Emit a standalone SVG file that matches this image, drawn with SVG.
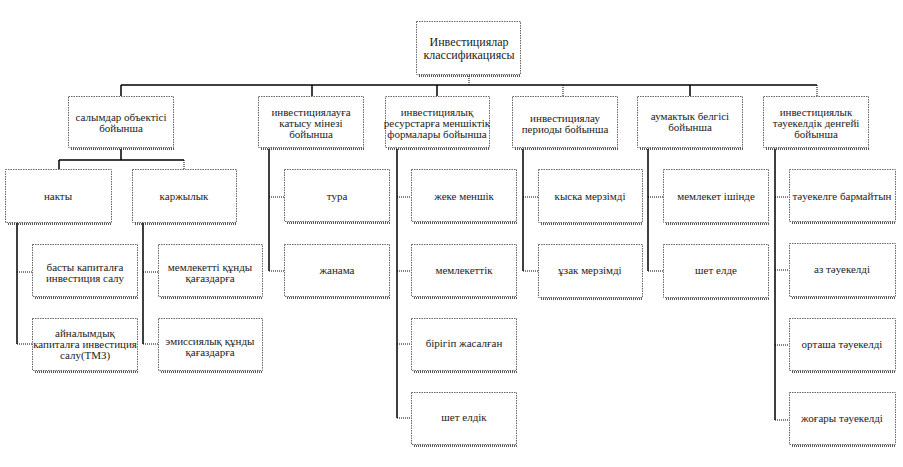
<svg xmlns="http://www.w3.org/2000/svg" width="903" height="467" viewBox="0 0 903 467">
<style>
.box{fill:#fff;stroke:#666;stroke-width:1;stroke-dasharray:1.5 1}
.sh{stroke:#222;stroke-width:1.5;stroke-dasharray:1 1;fill:none}
.wire{stroke:#000;stroke-width:1.5;fill:none}
.dot{stroke:#000;stroke-width:1;stroke-dasharray:1 1;fill:none}
text{font-family:"Liberation Serif","DejaVu Serif",serif;font-size:11px;fill:#222;text-anchor:middle}
.big{font-size:12px}
</style>
<rect width="903" height="467" fill="#fff"/>
<g id="connectors">
<path class="dot" d="M469 76V85"/>
<path class="wire" d="M121 85H817"/>
<path class="wire" d="M121 85V96M312 85V96M437 85V96M690 85V96"/>
<path class="dot" d="M563 85V96M817 85V96"/>
<path class="wire" d="M121 149V160M59 160H184M59 160V169"/>
<path class="dot" d="M184 160V169"/>
<path class="wire" d="M17 223V344M143 223V344M269 149V271M397 149V418M523 149V271M648 149V271M775 149V420"/>
<path class="dot" d="M17 272H32M17 344H32M143 272H158M143 344H158M269 197H284M269 271H284M397 197H411M397 271H411M397 344H411M397 418H411M523 197H538M523 271H538M648 197H663M648 271H663M775 197H789M775 270H789M775 345H789M775 420H789"/>
</g>
<g id="root"><rect class="box" x="416.5" y="21.5" width="104" height="53"/><path class="sh" d="M419 76H521"/><text class="big" x="469" y="46">Инвестициялар</text><text class="big" x="469" y="59">классификациясы</text></g>
<g id="n1"><rect class="box" x="68.5" y="96.5" width="105" height="51"/><path class="sh" d="M71 149H174"/><text x="121" y="121">салымдар объектісі</text><text x="121" y="132">бойынша</text></g>
<g id="n2"><rect class="box" x="258.5" y="96.5" width="105" height="51"/><path class="sh" d="M261 149H364"/><text x="311" y="116">инвестициялауға</text><text x="311" y="127">катысу мінезі</text><text x="311" y="138">бойынша</text></g>
<g id="n3"><rect class="box" x="385.5" y="96.5" width="104" height="51"/><path class="sh" d="M388 149H490"/><text x="437" y="116">инвестициялық</text><text x="437" y="127">ресурстарға меншіктік</text><text x="437" y="138">формалары бойынша</text></g>
<g id="n4"><rect class="box" x="512.5" y="96.5" width="105" height="51"/><path class="sh" d="M515 149H618"/><text x="565" y="122">инвестициялау</text><text x="565" y="133">периоды бойынша</text></g>
<g id="n5"><rect class="box" x="637.5" y="96.5" width="105" height="51"/><path class="sh" d="M640 149H743"/><text x="690" y="120">аумактык белгісі</text><text x="690" y="131">бойынша</text></g>
<g id="n6"><rect class="box" x="763.5" y="96.5" width="105" height="51"/><path class="sh" d="M766 149H869"/><text x="816" y="116">инвестициялык</text><text x="816" y="127">тәуекелдік денгейі</text><text x="816" y="138">бойынша</text></g>
<g id="n11"><rect class="box" x="5.5" y="169.5" width="106" height="53"/><path class="sh" d="M8 224H112"/><text x="58" y="200">накты</text></g>
<g id="n12"><rect class="box" x="132.5" y="169.5" width="104" height="53"/><path class="sh" d="M135 224H237"/><text x="184" y="200">каржылык</text></g>
<g id="n111"><rect class="box" x="32.5" y="244.5" width="105" height="52"/><path class="sh" d="M35 298H138"/><text x="85" y="271">басты капиталға</text><text x="85" y="282">инвестиция салу</text></g>
<g id="n112"><rect class="box" x="32.5" y="318.5" width="105" height="52"/><path class="sh" d="M35 372H138"/><text x="85" y="337">айналымдық</text><text x="85" y="348">капиталға инвестиция</text><text x="85" y="359">салу(ТМЗ)</text></g>
<g id="n121"><rect class="box" x="158.5" y="244.5" width="104" height="52"/><path class="sh" d="M161 298H263"/><text x="210" y="271">мемлекетті құнды</text><text x="210" y="282">қағаздарға</text></g>
<g id="n122"><rect class="box" x="158.5" y="318.5" width="104" height="52"/><path class="sh" d="M161 372H263"/><text x="210" y="345">эмиссиялық құнды</text><text x="210" y="356">қағаздарға</text></g>
<g id="n21"><rect class="box" x="284.5" y="169.5" width="105" height="52"/><path class="sh" d="M287 223H390"/><text x="337" y="200">тура</text></g>
<g id="n22"><rect class="box" x="284.5" y="244.5" width="105" height="52"/><path class="sh" d="M287 298H390"/><text x="337" y="274">жанама</text></g>
<g id="n31"><rect class="box" x="411.5" y="169.5" width="105" height="52"/><path class="sh" d="M414 223H517"/><text x="464" y="200">жеке меншік</text></g>
<g id="n32"><rect class="box" x="411.5" y="244.5" width="105" height="52"/><path class="sh" d="M414 298H517"/><text x="464" y="274">мемлекеттік</text></g>
<g id="n33"><rect class="box" x="411.5" y="318.5" width="105" height="52"/><path class="sh" d="M414 372H517"/><text x="464" y="347">бірігіп жасалған</text></g>
<g id="n34"><rect class="box" x="411.5" y="392.5" width="105" height="52"/><path class="sh" d="M414 446H517"/><text x="464" y="421">шет елдік</text></g>
<g id="n41"><rect class="box" x="538.5" y="169.5" width="104" height="53"/><path class="sh" d="M541 224H643"/><text x="590" y="200">кыска мерзімді</text></g>
<g id="n42"><rect class="box" x="538.5" y="244.5" width="104" height="53"/><path class="sh" d="M541 299H643"/><text x="590" y="274">ұзак мерзімді</text></g>
<g id="n51"><rect class="box" x="663.5" y="169.5" width="105" height="53"/><path class="sh" d="M666 224H769"/><text x="716" y="200">мемлекет ішінде</text></g>
<g id="n52"><rect class="box" x="663.5" y="244.5" width="105" height="53"/><path class="sh" d="M666 299H769"/><text x="716" y="274">шет елде</text></g>
<g id="n61"><rect class="box" x="789.5" y="169.5" width="106" height="52"/><path class="sh" d="M792 223H896"/><text x="842" y="200">тәуекелге бармайтын</text></g>
<g id="n62"><rect class="box" x="789.5" y="243.5" width="106" height="53"/><path class="sh" d="M792 298H896"/><text x="842" y="273">аз тәуекелді</text></g>
<g id="n63"><rect class="box" x="789.5" y="318.5" width="106" height="52"/><path class="sh" d="M792 372H896"/><text x="842" y="348">орташа тәуекелді</text></g>
<g id="n64"><rect class="box" x="789.5" y="392.5" width="106" height="52"/><path class="sh" d="M792 446H896"/><text x="842" y="422">жоғары тәуекелді</text></g>
</svg>
